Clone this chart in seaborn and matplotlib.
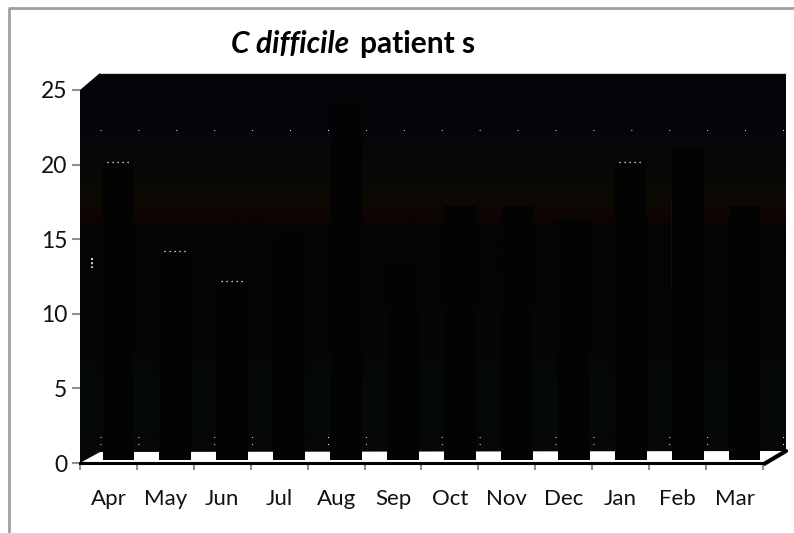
import numpy as np
import pandas as pd
import matplotlib
matplotlib.use("Agg")
import matplotlib.pyplot as plt
from matplotlib.colors import LinearSegmentedColormap
from matplotlib.patches import Polygon
from matplotlib.transforms import ScaledTranslation
import seaborn as sns

months = ["Apr", "May", "Jun", "Jul", "Aug", "Sep", "Oct", "Nov", "Dec", "Jan", "Feb", "Mar"]
patients = [20, 14, 12, 15, 24, 13, 17, 17, 16, 20, 21, 17]
yticks = [0, 5, 10, 15, 20, 25]

# nearly black wall with faint colour bands, top to bottom
wall_stops = [0.0, 0.10, 0.16, 0.24, 0.30, 0.35, 0.40, 0.60, 0.85, 1.0]
wall_colors = ["#020508", "#030409", "#08040b", "#060906", "#090b03", "#110703", "#050303", "#050504", "#040909", "#070707"]

sns.set_theme(style="white")
plt.rcParams["font.family"] = ["Lato", "DejaVu Sans"]

fig = plt.figure(figsize=(7.94, 5.33), dpi=100, facecolor="white")

# pixel sized layer for the frame and the 3d wall
bg = fig.add_axes([0, 0, 1, 1])
bg.set_xlim(0, 794)
bg.set_ylim(533, 0)
bg.axis("off")
bg.plot([9, 9, 794], [533, 8, 8], color="#a0a0a0", lw=2)

cmap = LinearSegmentedColormap.from_list("wall", list(zip(wall_stops, wall_colors)))
img = bg.imshow(np.linspace(0, 1, 200).reshape(-1, 1), cmap=cmap, extent=[80, 786, 463, 73], aspect="auto", zorder=1)
wall = Polygon([(80, 463), (80, 90), (100, 73), (786, 73), (786, 451), (100, 452)], closed=True, transform=bg.transData, fc="none", ec="none")
bg.add_patch(wall)
img.set_clip_path(wall)
bg.set_xlim(0, 794)
bg.set_ylim(533, 0)
# floor edge on the right
bg.plot([764, 786], [464, 451], color="black", lw=3, zorder=2)

# specks left in the wall
for yy in [130, 437, 444]:
    bg.plot([100, 784], [yy, yy], color="white", lw=0.7, ls=(0, (1, 38)), zorder=2)
bg.plot([100, 786], [73, 73], color="#d0d0d0", lw=0.8, zorder=2)
bg.plot([92, 92], [258, 268], color="#cccccc", lw=1.5, ls=(0, (1, 1)), zorder=2)
bg.plot([672, 672], [200, 290], color="#dddddd", lw=0.8, zorder=5)

ax = fig.add_axes([80 / 794, (533 - 463) / 533, 683 / 794, 373 / 533])
ax.patch.set_visible(False)
df = pd.DataFrame({"month": months, "patients": patients})
sns.barplot(data=df, x="month", y="patients", color="#030303", saturation=1, width=0.56, edgecolor="none", linewidth=0, ax=ax, zorder=3)

# bars sit back on the floor, shift them like the 3d view does
shift = ScaledTranslation(0.10, 0.03, fig.dpi_scale_trans)
for bar in ax.patches:
    bar.set_transform(bar.get_data_transform() + shift)
    bar.set_clip_on(False)

# white dots along some bar tops
for m in ["Apr", "May", "Jun", "Jan"]:
    i = months.index(m)
    ax.hlines(patients[i], i - 0.2, i + 0.2, color="white", lw=0.9, ls=(0, (1, 3)), zorder=4, transform=ax.transData + shift, clip_on=False)

ax.set_xlim(-0.5, 11.5)
ax.set_ylim(0, 25)
ax.set_yticks(yticks)
ax.set_xlabel("")
ax.set_ylabel("")
ax.set_xticks(np.arange(-0.5, 12, 1), minor=True)
ax.tick_params(axis="x", which="major", length=0, pad=19, labelsize=16, labelcolor="#111111")
ax.tick_params(axis="x", which="minor", length=5, width=1.5, color="#909090", bottom=True)
ax.tick_params(axis="y", length=6, width=1.5, color="#909090", left=True, pad=3, labelsize=16.5, labelcolor="#111111")
for s in ["top", "right", "left"]:
    ax.spines[s].set_visible(False)
ax.spines["bottom"].set_color("black")
ax.spines["bottom"].set_linewidth(2.2)

bg.text(231, 53, "C difficile", fontsize=21.5, fontweight="bold", style="italic", color="black", va="baseline", zorder=6)
bg.text(360, 53, "patient s", fontsize=21.5, fontweight="bold", color="black", va="baseline", zorder=6)

fig.savefig("out.png", dpi=100)
